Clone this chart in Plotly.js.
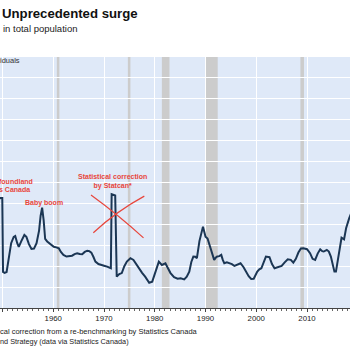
<!DOCTYPE html>
<html>
<head>
<meta charset="utf-8">
<script src="https://cdn.plot.ly/plotly-3.0.1.min.js"></script>
<style>
html,body{margin:0;padding:0;background:#fff;overflow:hidden;}
#chart{width:350px;height:350px;}
</style>
</head>
<body>
<div id="chart"></div>
<script>
// Population growth (thousands of individuals)
const years = [1948.5,1949.0,1949.5,1949.95,1950.1,1950.4,1950.8,1951.2,1951.7,1952.2,1952.5,1952.9,1953.2,1953.7,1954.3,1954.7,1955.2,1955.7,1956.2,1956.7,1957.2,1957.5,1957.8,1958.1,1958.4,1958.8,1959.2,1959.7,1960.1,1960.6,1961.1,1961.5,1962.0,1962.6,1963.2,1963.7,1964.2,1964.7,1965.2,1965.7,1966.2,1966.7,1967.1,1967.5,1967.9,1968.3,1968.9,1969.3,1970.0,1970.6,1971.3,1971.35,1971.5,1972.2,1972.5,1973.0,1973.5,1974.0,1974.5,1975.2,1975.8,1976.3,1976.8,1977.5,1978.1,1978.9,1979.5,1980.1,1980.8,1981.4,1982.1,1982.6,1983.1,1983.8,1984.5,1985.1,1985.8,1986.3,1986.8,1987.2,1987.6,1988.0,1988.3,1988.8,1989.2,1989.5,1989.8,1990.0,1990.4,1990.7,1991.2,1991.7,1992.0,1992.3,1992.7,1993.1,1993.4,1993.7,1994.2,1994.7,1995.2,1995.7,1996.2,1996.9,1997.5,1998.0,1998.5,1999.0,1999.5,2000.2,2000.6,2001.0,2001.5,2001.9,2002.6,2003.1,2003.6,2004.1,2004.6,2005.0,2005.6,2006.2,2006.8,2007.3,2007.8,2008.3,2008.8,2009.3,2010.0,2010.6,2011.1,2011.6,2012.1,2012.6,2013.0,2013.3,2013.9,2014.3,2014.7,2015.1,2015.4,2015.7,2016.2,2016.5,2016.8,2017.3,2017.7,2018.3,2018.8,2019.5];
const growth = [330,610,626,626,272,268,272,330,410,440,444,410,392,420,449,440,405,382,384,410,470,540,580,520,430,418,410,400,393,390,385,368,354,346,348,350,358,362,358,357,368,374,372,365,345,322,310,306,302,298,290,290,644,638,250,262,267,300,322,338,330,310,290,268,250,221,226,267,322,306,314,290,267,247,240,242,237,250,274,320,346,345,338,420,470,489,460,441,432,410,370,330,340,346,348,354,330,314,318,314,310,301,305,314,295,274,252,239,240,274,285,290,320,346,343,310,290,295,298,301,318,333,330,317,335,365,385,386,381,362,335,330,360,381,372,370,378,370,346,300,274,274,354,410,436,428,481,529,560,600];

// Recession periods
const recessionStart = [1960.7, 1974.7, 1981.4, 1990.1, 2008.7];
const recessionEnd   = [1961.2, 1975.2, 1982.9, 1992.4, 2009.4];

const tickYears = [1950, 1960, 1970, 1980, 1990, 2000, 2010, 2020];

const red = '#e8463c';

const shapes = recessionStart.map((s, i) => ({
  type: 'rect', xref: 'x', yref: 'paper', x0: s, x1: recessionEnd[i], y0: 0, y1: 1,
  fillcolor: '#cccccc', line: {width: 0}, layer: 'below'
}));
// red cross over the statistical correction
shapes.push({type: 'path', xref: 'x', yref: 'y',
  path: 'M 1967.43 640 Q 1972.81 545 1977.78 435', line: {color: red, width: 1.2}});
shapes.push({type: 'path', xref: 'x', yref: 'y',
  path: 'M 1967.89 460 Q 1972.46 563 1977.94 635', line: {color: red, width: 1.2}});

const FONT = 'Liberation Sans, Arial, sans-serif';
const annFont = {family: FONT, size: 7, color: red, weight: 'bold'};
const annotations = [
  {xref: 'paper', yref: 'paper', x: 3/350, y: (308-28.3)/251, xanchor: 'left', yanchor: 'middle', xshift: -2,
   text: 'in total population', showarrow: false,
   font: {family: FONT, size: 9.5, color: '#222'}},
  {xref: 'paper', yref: 'paper', x: 0, y: (308-60.7)/251, xanchor: 'left', yanchor: 'middle', xshift: -2,
   text: 'iduals', showarrow: false,
   font: {family: FONT, size: 7.5, color: '#333'}},
  {xref: 'paper', yref: 'y', x: 32.5/350, y: 703, xanchor: 'right', yanchor: 'middle', xshift: 2,
   text: '<b>foundland</b>', showarrow: false, font: annFont},
  {xref: 'paper', yref: 'y', x: 29.5/350, y: 665, xanchor: 'right', yanchor: 'middle', xshift: 2,
   text: '<b>s Canada</b>', showarrow: false, font: annFont},
  {xref: 'x', yref: 'y', x: 1958.1, y: 603, xanchor: 'center', yanchor: 'middle',
   text: '<b>Baby boom</b>', showarrow: false, font: annFont},
  {xref: 'x', yref: 'y', x: 1971.7, y: 703, xanchor: 'center', yanchor: 'middle',
   text: '<b>Statistical correction<br>by Statcan*</b>', showarrow: false, font: annFont},
  {xref: 'paper', yref: 'paper', x: 0, y: (308-331.7)/251, xanchor: 'left', yanchor: 'middle', xshift: -2,
   text: 'cal correction from a re-benchmarking by Statistics Canada', showarrow: false,
   font: {family: FONT, size: 7.5, color: '#222'}},
  {xref: 'paper', yref: 'paper', x: 0, y: (308-341.7)/251, xanchor: 'left', yanchor: 'middle', xshift: -2,
   text: 'nd Strategy (data via Statistics Canada)', showarrow: false,
   font: {family: FONT, size: 7.3, color: '#222'}}
];

const trace = {
  x: years, y: growth, type: 'scatter', mode: 'lines',
  line: {color: '#1b3654', width: 2}, hoverinfo: 'skip'
};

const layout = {
  width: 350, height: 350,
  margin: {l: 0, r: 0, t: 57, b: 42, pad: 0},
  paper_bgcolor: '#ffffff', plot_bgcolor: '#dfe9f8',
  showlegend: false,
  title: {text: '<b>Unprecedented surge</b>', x: 2/350, xanchor: 'left', xref: 'container',
    y: 1 - 13.5/350, yanchor: 'middle', yref: 'container',
    font: {family: FONT, size: 13.2, color: '#111'}},
  xaxis: {
    range: [1949.5, 2018.47], tickmode: 'array', tickvals: tickYears, ticktext: tickYears.map(String),
    showgrid: true, gridcolor: '#ffffff', gridwidth: 1,
    showline: true, linecolor: '#444', linewidth: 1,
    ticks: 'outside', ticklen: 3, tickcolor: '#444', tickwidth: 1,
    minor: {dtick: 1, tick0: 1950, ticks: 'outside', ticklen: 2, tickcolor: '#666', showgrid: false},
    tickfont: {family: FONT, size: 7.8, color: '#222'},
    zeroline: false, fixedrange: true
  },
  yaxis: {
    range: [100, 1300], dtick: 100, tick0: 0,
    showgrid: true, gridcolor: '#ffffff', gridwidth: 1,
    showticklabels: false, ticks: '', zeroline: false, showline: false, fixedrange: true
  },
  shapes: shapes,
  annotations: annotations
};

Plotly.newPlot('chart', [trace], layout, {displayModeBar: false, staticPlot: true});
</script>
</body>
</html>
